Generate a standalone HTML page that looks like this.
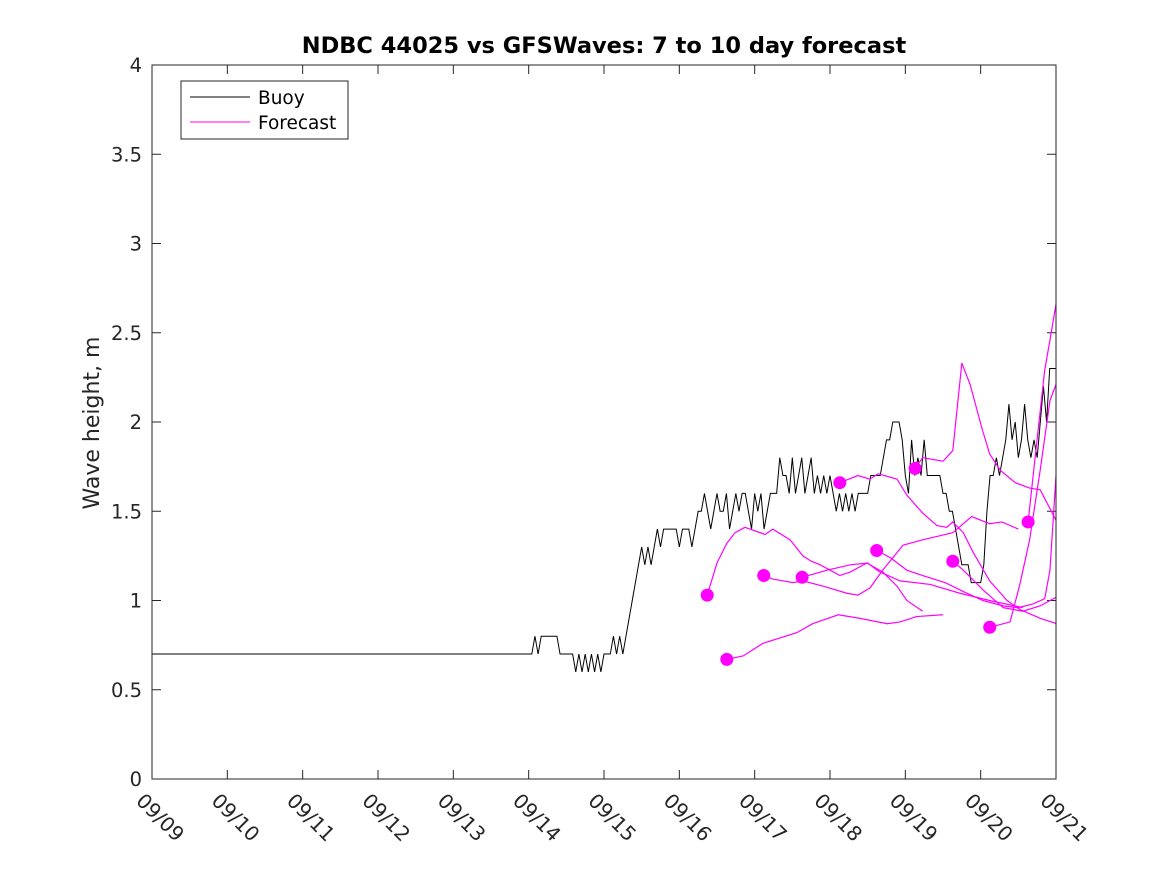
<!DOCTYPE html>
<html><head><meta charset="utf-8"><style>
body{margin:0;background:#fff;}
svg{display:block;font-family:"DejaVu Sans","Liberation Sans",sans-serif;}
</style></head><body>
<svg id="chart" width="1167" height="875" viewBox="0 0 1167 875" xmlns="http://www.w3.org/2000/svg">
<rect width="1167" height="875" fill="#fff"/>
<text x="604" y="53" text-anchor="middle" font-size="22.5" font-weight="bold" fill="#000">NDBC 44025 vs GFSWaves: 7 to 10 day forecast</text>
<text transform="translate(99,423) rotate(-90)" text-anchor="middle" font-size="22" fill="#262626">Wave height, m</text>
<defs><clipPath id="plotclip"><rect x="152" y="65" width="904" height="714"/></clipPath></defs>
<g id="grid"></g>
<g id="series" clip-path="url(#plotclip)"></g>
<rect x="152" y="65" width="904" height="714" fill="none" stroke="#262626" stroke-width="1"/>
<g>
<rect x="181" y="81" width="167" height="58" fill="#fff" stroke="#262626" stroke-width="1"/>
<line x1="190" y1="97" x2="250" y2="97" stroke="#000" stroke-width="1"/>
<text x="258" y="104" font-size="18.5" fill="#000">Buoy</text>
<line x1="190" y1="122" x2="250" y2="122" stroke="#f0f" stroke-width="1"/>
<text x="258" y="129" font-size="18.5" fill="#000">Forecast</text>
</g>
</svg>
<script>
const xTickLabels = ["09/09","09/10","09/11","09/12","09/13","09/14","09/15","09/16","09/17","09/18","09/19","09/20","09/21"];
const yTickValues = [0,0.5,1,1.5,2,2.5,3,3.5,4];
const yTickLabels = ["0","0.5","1","1.5","2","2.5","3","3.5","4"];
// buoy: constant 0.7 from day 0 to 5, then hourly values from day 5 to 12
const buoyStartValue = 0.7;
const buoyHourly = [0.7,0.7, 0.8,0.7,0.8, 0.8,0.8,0.8,0.8,0.8, 0.7,0.7,0.7,0.7,0.7,
 0.6,0.7,0.6,0.7,0.6,0.7,0.6,0.7,0.6,0.7, 0.7,0.7, 0.8,0.7,0.8,0.7, 0.8,
 0.9,1.0,1.1,1.2,1.3, 1.2,1.3,1.2,1.3, 1.4,1.3,1.4, 1.4,1.4,1.4,1.4, 1.3,1.4,1.4,1.4,1.3, 1.4,1.5,
 1.5,1.6,1.5,1.4,1.5,1.6,1.5,1.5,1.6,1.4,1.5,1.6,1.5,1.6,1.6,1.5,1.4,1.6,1.5,1.6,1.4,1.5,
 1.6,1.6,1.6, 1.8,1.7,1.7,
 1.6,1.8,1.6,1.7,1.8,1.6,1.7,1.8,1.6,1.7,1.6,1.7,1.6,1.7,1.6,
 1.5,1.6,1.5,1.6,1.5,1.6,1.5,1.6, 1.6,1.6,1.6,1.7,1.7,1.7,1.7, 1.8,1.9,1.9, 2.0,2.0,2.0,
 1.9,1.7,1.6,1.9,1.7,1.8,1.7,1.9,1.7, 1.7,1.7,1.7,1.7, 1.6,1.6,1.5,1.5, 1.4,1.3, 1.2,1.2,1.2,
 1.1,1.1,1.1,1.1, 1.2,1.5,1.7,1.7, 1.8,1.7,1.8,
 1.9,2.1,1.9,2.0,1.8,1.9,2.1,1.9,1.8,1.9,1.8,2.0, 2.2,2.0,2.3,2.3, 2.3];
// forecast series (day offset from 09/09, wave height m)
const f1Days = [7.37,7.50,7.63,7.74,7.87,8.14,8.24,8.47,8.64,8.75,8.87,9.13,9.27,9.49,9.70,9.89,10.02,10.23];
const f1Vals = [1.03,1.21,1.32,1.38,1.41,1.37,1.40,1.34,1.25,1.22,1.20,1.14,1.16,1.21,1.16,1.08,1.00,0.94];
const f2Days = [7.63,7.85,8.11,8.56,8.77,9.11,9.40,9.76,9.93,10.15,10.50];
const f2Vals = [0.67,0.69,0.76,0.82,0.87,0.92,0.90,0.87,0.88,0.91,0.92];
const f3Days = [8.12,8.24,8.51,8.64,8.91,9.23,9.37,9.53,9.70,9.97,10.23,10.63,10.88,11.12,11.28,11.50];
const f3Vals = [1.14,1.12,1.10,1.11,1.08,1.04,1.03,1.07,1.17,1.31,1.34,1.38,1.47,1.43,1.44,1.40];
const f4Days = [8.63,8.96,9.27,9.50,9.66,9.93,10.33,10.73,11.12,11.56];
const f4Vals = [1.13,1.17,1.20,1.21,1.16,1.11,1.09,1.04,1.00,0.96];
const f5Days = [9.13,9.37,9.53,9.64,9.89,10.02,10.23,10.42,10.55,10.63,10.77,10.90,11.12,11.35,11.52,11.79,12.01];
const f5Vals = [1.66,1.70,1.68,1.71,1.68,1.59,1.49,1.42,1.41,1.44,1.38,1.27,1.11,1.00,0.95,0.90,0.87];
const f6Days = [9.62,9.80,10.02,10.23,10.53,10.77,11.03,11.30,11.50,11.69,11.85,11.92,12.00];
const f6Vals = [1.28,1.24,1.17,1.14,1.10,1.05,1.00,0.97,0.96,0.98,1.01,1.17,1.70];
const f7Days = [10.13,10.23,10.50,10.63,10.75,10.86,11.02,11.12,11.26,11.46,11.65,11.79,12.00];
const f7Vals = [1.74,1.80,1.78,1.84,2.33,2.21,1.96,1.82,1.73,1.66,1.63,1.62,1.45];
const f8Days = [10.63,10.77,11.03,11.30,11.56,11.79,12.01];
const f8Vals = [1.22,1.17,1.06,0.96,0.94,0.97,1.02];
const f9Days = [11.12,11.39,11.52,11.65,11.79,11.92,12.00];
const f9Vals = [0.85,0.88,1.09,1.34,1.73,2.12,2.21];
const f10Days = [11.63,11.72,11.85,11.92,12.00];
const f10Vals = [1.44,1.79,2.29,2.46,2.66];

const X0=152,X1=1056,Y0=779,Y1=65;
function xScale(d){return X0+(X1-X0)*d/12;}
function yScale(v){return Y0-(Y0-Y1)*v/4;}
const NS="http://www.w3.org/2000/svg";
const grid=document.getElementById('grid');
const series=document.getElementById('series');
function mk(tag,attrs,parent){const e=document.createElementNS(NS,tag);for(const k in attrs)e.setAttribute(k,attrs[k]);parent.appendChild(e);return e;}

xTickLabels.forEach((lab,i)=>{
  const x=xScale(i);
  const t1=mk('line',{x1:x,y1:Y0,x2:x,y2:Y0-9,stroke:'#262626'},grid);
  
  
  const t2=mk('line',{x1:x,y1:Y1,x2:x,y2:Y1+9,stroke:'#262626'},grid);
  
  
  const tx=mk('text',{x:x-17,y:802,'font-size':20,fill:'#262626',transform:`rotate(45 ${x-17} 802)`},grid);
  tx.textContent=lab;
  
  
});
yTickValues.forEach((v,i)=>{
  const y=yScale(v);
  const t1=mk('line',{x1:X0,y1:y,x2:X0+9,y2:y,stroke:'#262626'},grid);
  
  
  const t2=mk('line',{x1:X1,y1:y,x2:X1-9,y2:y,stroke:'#262626'},grid);
  
  
  const tx=mk('text',{x:X0-10,y:y+7,'font-size':19.5,fill:'#262626','text-anchor':'end'},grid);
  tx.textContent=yTickLabels[i];
  
  
});

// buoy line
let pts=[[xScale(0),yScale(buoyStartValue)]];
buoyHourly.forEach((v,i)=>pts.push([xScale(5+i/24),yScale(v)]));
const bl=mk('polyline',{points:pts.map(p=>p.join(',')).join(' '),fill:'none',stroke:'#000','stroke-width':1},series);



const fc=[[f1Days,f1Vals],[f2Days,f2Vals],[f3Days,f3Vals],[f4Days,f4Vals],[f5Days,f5Vals],[f6Days,f6Vals],[f7Days,f7Vals],[f8Days,f8Vals],[f9Days,f9Vals],[f10Days,f10Vals]];
fc.forEach(([ds,vs])=>{
  const p=ds.map((d,i)=>xScale(d)+','+yScale(vs[i])).join(' ');
  const l=mk('polyline',{points:p,fill:'none',stroke:'#f0f','stroke-width':1.2},series);
  
  
});
fc.forEach(([ds,vs])=>{
  const c=mk('circle',{cx:xScale(ds[0]),cy:yScale(vs[0]),r:6.5,fill:'#f0f'},series);
  
  
});
</script>
</body></html>
